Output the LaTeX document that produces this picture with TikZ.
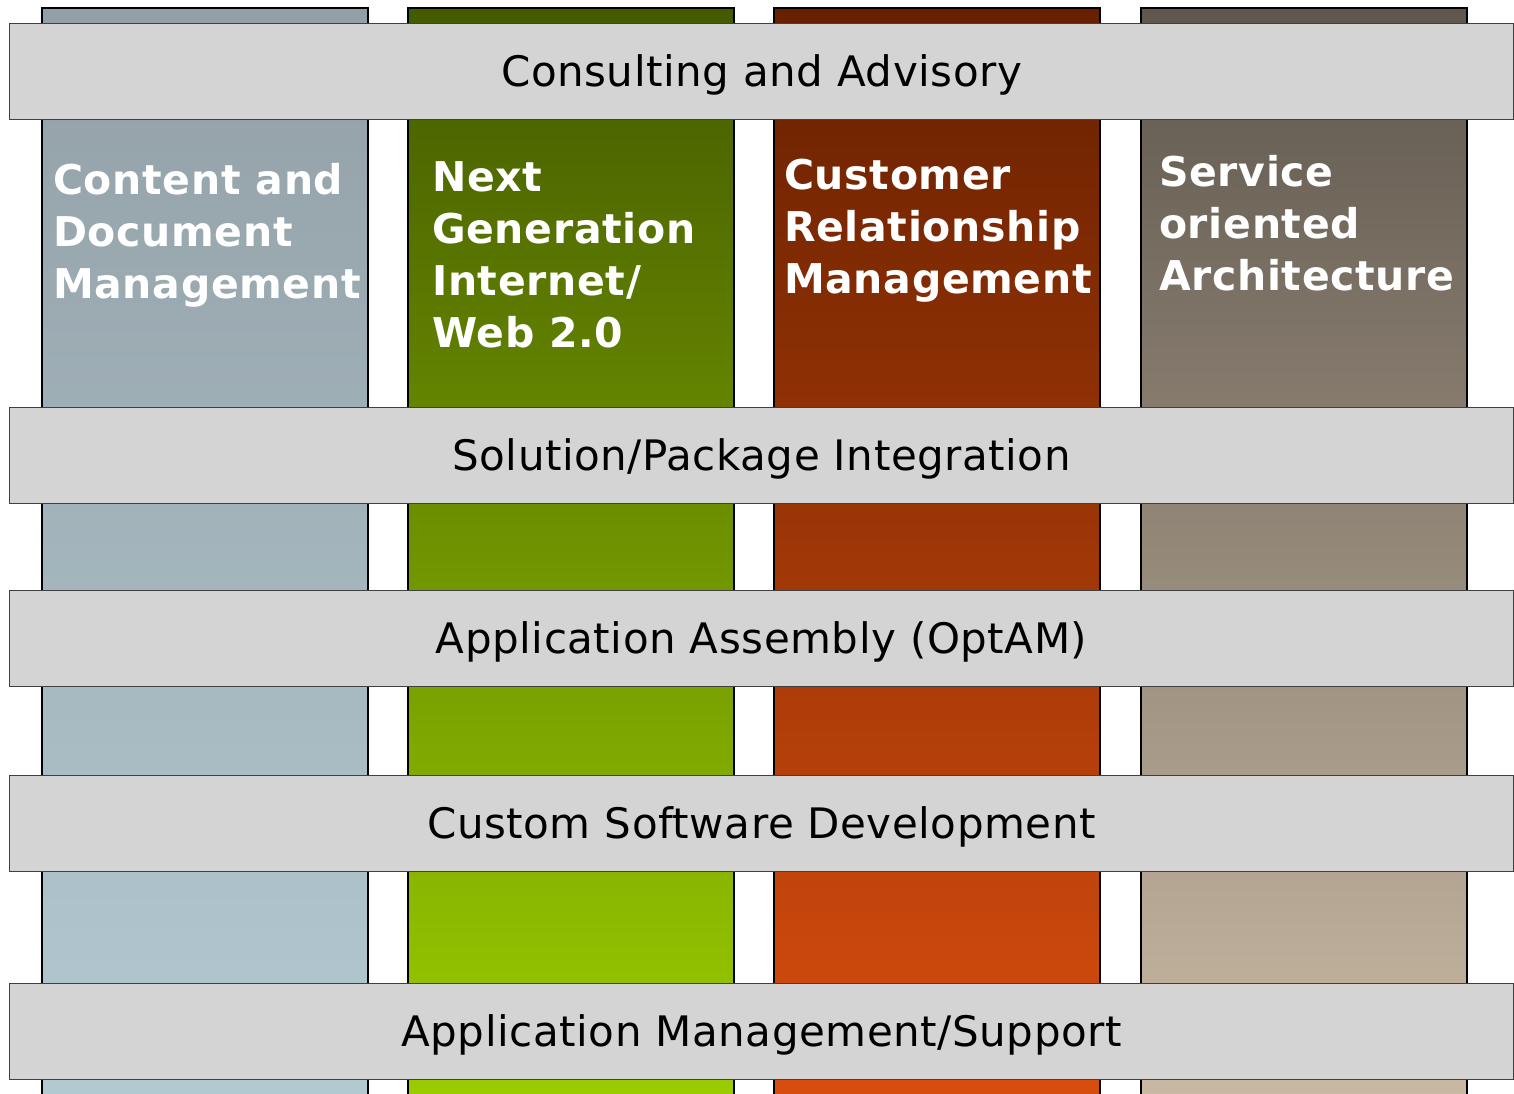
\documentclass[tikz,border=0pt]{standalone}
\usepackage{fontspec}
\setmainfont{DejaVu Sans}
\newfontfamily\layerfont[LetterSpace=1.3]{DejaVu Sans}
\newfontfamily\columnfont[LetterSpace=1.6]{DejaVu Sans Bold}
\usetikzlibrary{positioning}
\definecolor{cdmtop}{HTML}{939FA6}
\definecolor{cdmbot}{HTML}{B3CAD2}
\definecolor{ngitop}{HTML}{445A00}
\definecolor{ngibot}{HTML}{9CCF00}
\definecolor{crmtop}{HTML}{662000}
\definecolor{crmbot}{HTML}{DA4E0E}
\definecolor{soatop}{HTML}{5F574E}
\definecolor{soabot}{HTML}{CBBBA5}
\definecolor{barfill}{HTML}{D4D4D4}

\begin{document}
\begin{tikzpicture}[x=1pt, y=-1pt]
\tikzset{column/.style={draw=black, line width=1.5pt, minimum width=326pt, minimum height=1110pt, anchor=north west, inner sep=0pt},
  layer/.style={draw=black!75, fill=barfill, line width=1.2pt, minimum width=1504pt, minimum height=96pt, anchor=north west, inner sep=0pt, text height=31pt, text depth=1pt, font=\layerfont\fontsize{42}{50}\selectfont},
  collabel/.style={text=white, font=\columnfont\fontsize{41}{52}\selectfont, align=left, anchor=north west, inner sep=0pt}}

\useasboundingbox (0,0) rectangle (1514,1093);
\clip (0,0) rectangle (1514,1093);

% the four solution columns
\node [column, top color=cdmtop, bottom color=cdmbot] (cdm) at (41,7) {};
\node [column, top color=ngitop, bottom color=ngibot] (ngi) at (407,7) {};
\node [column, top color=crmtop, bottom color=crmbot] (crm) at (773,7) {};
\node [column, top color=soatop, bottom color=soabot] (soa) at (1140,7) {};

\node [collabel, below right=156pt and 12pt of cdm.north west] (cdmtext) {Content and\\Document\\Management};
\node [collabel, below right=154pt and 25pt of ngi.north west] (ngitext) {Next\\Generation\\Internet/\\Web 2.0};
\node [collabel, below right=152pt and 11pt of crm.north west] (crmtext) {Customer\\Relationship\\Management};
\node [collabel, below right=148pt and 19pt of soa.north west] (soatext) {Service\\oriented\\Architecture};

% the service layers across them
\node [layer] (consult) at (9,23) {Consulting and Advisory};
\node [layer] (solution) at (9,407) {Solution/Package Integration};
\node [layer] (assembly) at (9,590) {Application Assembly (OptAM)};
\node [layer] (custom) at (9,775) {Custom Software Development};
\node [layer] (appmgmt) at (9,983) {Application Management/Support};

\end{tikzpicture}
\end{document}
